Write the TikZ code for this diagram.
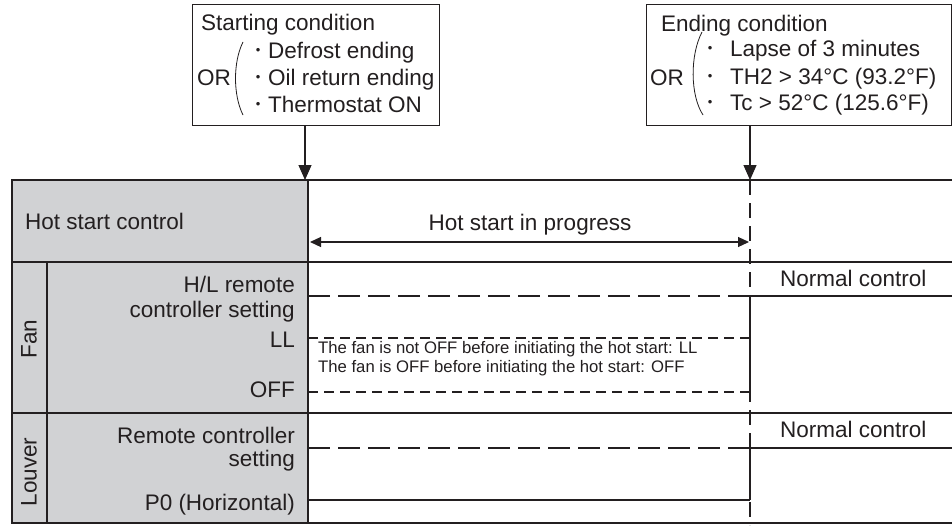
\documentclass[tikz,border=0pt]{standalone}
\usepackage{fontspec}
\setmainfont{Liberation Sans}
\usetikzlibrary{arrows.meta}
\definecolor{ink}{HTML}{231F20}
\definecolor{panel}{HTML}{D1D2D4}
\newcommand{\bul}{\raisebox{3.3pt}{\fontsize{13}{13}\selectfont •}}
\newcommand{\twolines}[3]{{\renewcommand{\arraystretch}{#1}\begin{tabular}[b]{@{}r@{}}#2\\#3\end{tabular}}}
\begin{document}
\begin{tikzpicture}[x=1pt,y=-1pt,
  lbl/.style={font=\fontsize{22.5}{27}\selectfont, inner sep=0pt, text=ink},
  small/.style={font=\fontsize{16.7}{19}\selectfont, inner sep=0pt, text=ink},
  thickline/.style={draw=ink, line width=2.2pt},
  thinline/.style={draw=ink, line width=1.2pt},
  condbox/.style={draw=ink, line width=1.3pt, inner sep=0pt, anchor=north west},
  thindash/.style={draw=ink, line width=1.2pt, dash pattern=on 22pt off 8pt},
  thickdash/.style={draw=ink, line width=2.2pt, dash pattern=on 10pt off 6pt},
  vdash/.style={draw=ink, line width=1.2pt, dash pattern=on 15pt off 8pt},
  downarrow/.style={thinline, -{Triangle[length=15pt,width=13pt]}},
  bothways/.style={thinline, {Triangle[length=11pt,width=10pt]}-{Triangle[length=11pt,width=10pt]}}
]
\useasboundingbox (0,0) rectangle (952,525);
\fill[white] (0,0) rectangle (952,525);

% ---------- condition boxes ----------
\node[condbox, minimum width=247pt, minimum height=121pt] (sbox) at (192,4) {};
\node[lbl, anchor=base west] (stitle) at (201,30) {Starting condition};
\node[lbl, anchor=base west] (sor) at (197,85) {OR};
\draw[ink, line width=0.8pt] (243,42) .. controls (233,62) and (233,95) .. (243,115);
\node[lbl, anchor=base west] (s1) at (255.7,58) {\bul\hspace{7.7pt}Defrost ending};
\node[lbl, anchor=base west] (s2) at (255.7,85) {\bul\hspace{7.7pt}Oil return ending};
\node[lbl, anchor=base west] (s3) at (255.7,112) {\bul\hspace{7.7pt}Thermostat ON};

\node[condbox, minimum width=305pt, minimum height=121pt] (ebox) at (646,4) {};
\node[lbl, anchor=base west] (etitle) at (661,31) {Ending condition};
\node[lbl, anchor=base west] (eor) at (650,85) {OR};
\draw[ink, line width=0.8pt] (702,32) .. controls (690,55) and (690,95) .. (703,115);
\node[lbl, anchor=base west] (e1) at (707.7,56) {\bul\hspace{17.7pt}Lapse of 3 minutes};
\node[lbl, anchor=base west] (e2) at (707.7,84) {\bul\hspace{17.7pt}TH2 > 34°C (93.2°F)};
\node[lbl, anchor=base west] (e3) at (707.7,110) {\bul\hspace{17.7pt}Tc > 52°C (125.6°F)};

\coordinate (sa) at (305,125);
\coordinate (sb) at (305,180);
\coordinate (ea) at (750,125);
\coordinate (eb) at (750,180);
\draw[downarrow] (sa) -- (sb);
\draw[downarrow] (ea) -- (eb);

% ---------- table ----------
\fill[panel] (12,180) rectangle (308,523);
\draw[ink, line width=1.2pt] (12,523) -- (952,523);
\draw[thickline] (12,180) -- (952,180);
\draw[thickline] (12,262) -- (952,262);
\draw[thickline] (12,413) -- (952,413);
\draw[thickline] (12,179) -- (12,524);
\draw[thickline] (308,179) -- (308,524);
\draw[thickline] (47,262) -- (47,524);

% labels
\node[lbl, anchor=base west] (hsc) at (25,229) {Hot start control};
\node[lbl, anchor=base] (hsp) at (530,230) {Hot start in progress};
\coordinate (hl) at (310,242);
\coordinate (hr) at (749,242);
\draw[bothways] (hl) -- (hr);

\node[lbl, rotate=90] (fan) at (29,339) {Fan};
\node[lbl, rotate=90] (louver) at (29,472) {Louver};

\node[lbl, anchor=base east] (hlset) at (295,317) {\twolines{0.89}{H/L remote}{controller setting}};
\node[lbl, anchor=base east] (ll) at (295,347) {LL};
\node[lbl, anchor=base east] (off) at (295,397) {OFF};
\node[lbl, anchor=base east] (rcset) at (295,466) {\twolines{0.72}{Remote controller}{setting}};
\node[lbl, anchor=base east] (p0) at (295,510) {P0 (Horizontal)};

\node[small, anchor=base west] (n1) at (318,353) {The fan is not OFF before initiating the hot start: LL};
\node[small, anchor=base west] (n2) at (318,372) {The fan is OFF before initiating the hot start: OFF};

\node[lbl, anchor=base west] (nc1) at (780,286) {Normal control};
\node[lbl, anchor=base west] (nc2) at (780,437) {Normal control};

% timing lines
\draw[vdash] (750,180) -- (750,525);
\draw[thindash] (308,296) -- (750,296);
\draw[thickline] (750,296) -- (952,296);
\draw[thinline] (750,296) -- (750,392);
\draw[thickdash] (308,338) -- (750,338);
\draw[thickdash] (308,392) -- (750,392);

\draw[thindash] (308,448) -- (750,448);
\draw[thickline] (750,448) -- (952,448);
\draw[thinline] (750,448) -- (750,500);
\draw[thickline] (308,500) -- (750,500);
\end{tikzpicture}
\end{document}
